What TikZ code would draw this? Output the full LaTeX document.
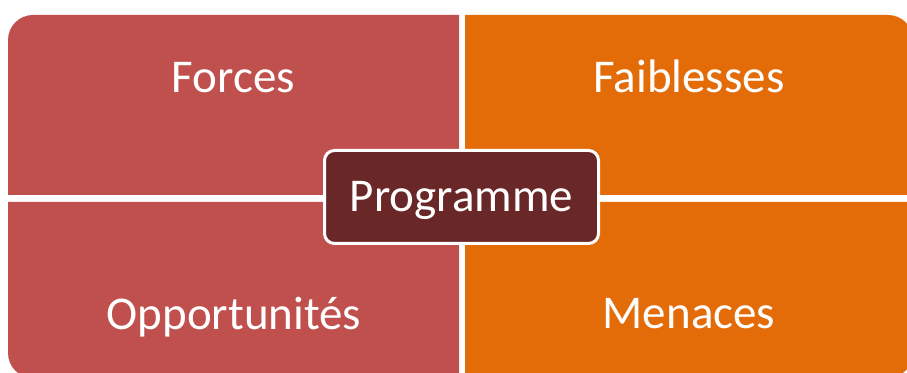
\documentclass[tikz,border=0pt]{standalone}
\usepackage{fontspec}
\setmainfont{Carlito}
\definecolor{rougeq}{HTML}{C0504D}
\definecolor{orangeq}{HTML}{E36C09}
\definecolor{centreq}{HTML}{692727}
\tikzset{
  label/.style={text=white, font=\fontsize{47}{51}\selectfont, inner sep=0pt, anchor=base},
  centre/.style={draw=white, line width=3pt, fill=centreq, rounded corners=10pt,
    minimum width=274pt, minimum height=93pt, text height=30pt, text depth=0pt,
    inner sep=0pt, text=white, font=\fontsize{47}{51}\selectfont}
}

\begin{document}
\begin{tikzpicture}[x=1pt, y=1pt]
    \useasboundingbox (0, 0) rectangle (907, 372);
    \clip (0, 0) rectangle (907, 372);

    \coordinate (HG) at (459, 177);
    \coordinate (HD) at (465, 177);
    \coordinate (BG) at (459, 170);
    \coordinate (BD) at (465, 170);
    \coordinate (C) at (461.5, 175);

    \fill[rougeq] (HG) -- (8, 177) -- (8, 332) arc (180:90:25) -- (459, 357) -- cycle;
    \fill[orangeq] (HD) -- (465, 357) -- (888, 357) arc (90:0:25) -- (913, 177) -- cycle;
    \fill[rougeq] (BG) -- (8, 170) -- (8, 19) arc (180:270:25) -- (459, -6) -- cycle;
    \fill[orangeq] (BD) -- (913, 170) -- (913, 19) arc (0:-90:25) -- (465, -6) -- cycle;

    \node[label] (forces) at (233.5, 279) {Forces};
    \node[label] (faiblesses) at (689, 279) {Faiblesses};
    \node[label] (opportunites) at (234, 42) {Opportunités};
    \node[label] (menaces) at (689, 43) {Menaces};

    \node[centre] (programme) at (C) {Programme};
\end{tikzpicture}
\end{document}
